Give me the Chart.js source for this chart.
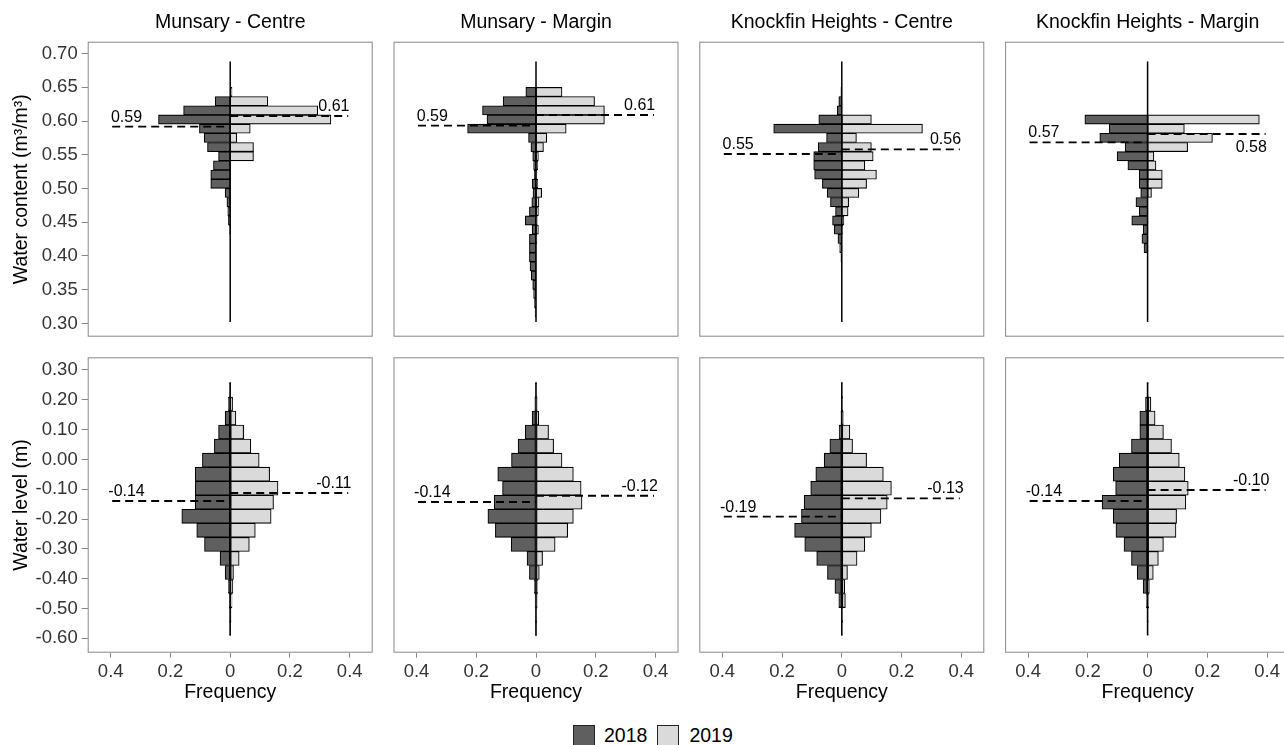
<!DOCTYPE html>
<html>
<head>
<meta charset="utf-8">
<script src="https://cdn.jsdelivr.net/npm/chart.js@4.4.1/dist/chart.umd.min.js"></script>
<style>
  body { margin: 0; background: #fff; overflow: hidden; }
  #fig { position: relative; width: 1284px; height: 745px; overflow: hidden;
         font-family: "Liberation Sans", Arial, sans-serif; }
  #fig canvas { position: absolute; }
  #legend { position: absolute; left: 573px; top: 724px; display: flex; align-items: center;
            font-size: 19.5px; color: #000; }
  .key { width: 22px; height: 22px; border: 1px solid #222; box-sizing: border-box; }
</style>
</head>
<body>
<div id="fig">
  <div id="legend">
    <div class="key" style="background:#5f5f5f"></div><span style="margin:0 10px 0 9px">2018</span>
    <div class="key" style="background:#dadada"></div><span style="margin-left:10px">2019</span>
  </div>
</div>
<script>
"use strict";

var panel_names = ["Munsary - Centre", "Munsary - Margin", "Knockfin Heights - Centre", "Knockfin Heights - Margin"];

// water content (top row), bin centres shared by all four panels
var wc_bins = [0.6838, 0.6702, 0.6566, 0.6430, 0.6294, 0.6158, 0.6022, 0.5886, 0.5750, 0.5614,
               0.5478, 0.5342, 0.5206, 0.5070, 0.4934, 0.4798, 0.4662, 0.4526, 0.4390, 0.4254,
               0.4118, 0.3982, 0.3846, 0.3710, 0.3574, 0.3438, 0.3302, 0.3166, 0.3030];
var wc_ticks = [0.30, 0.35, 0.40, 0.45, 0.50, 0.55, 0.60, 0.65, 0.70];
var wc_span = [0.302, 0.688];

var wc_mc_2018 = [0, 0, 0, 0, 0.050, 0.156, 0.240, 0.103, 0.087, 0.076, 0.039, 0.056, 0.065, 0.065, 0.017,
                  0.011, 0.008, 0.006, 0.002, 0, 0, 0, 0, 0, 0, 0, 0, 0, 0];
var wc_mc_2019 = [0, 0, 0, 0.006, 0.126, 0.293, 0.337, 0.067, 0.022, 0.078, 0.078, 0, 0, 0, 0,
                  0, 0, 0, 0, 0, 0, 0, 0, 0, 0, 0, 0, 0, 0];
var wc_mm_2018 = [0, 0, 0, 0.034, 0.110, 0.179, 0.164, 0.229, 0.025, 0.017, 0.011, 0.008, 0.006, 0.013, 0.010,
                  0.014, 0.022, 0.036, 0.013, 0.022, 0.022, 0.022, 0.020, 0.016, 0.011, 0.008, 0.005, 0.003, 0];
var wc_mm_2019 = [0, 0, 0, 0.087, 0.196, 0.229, 0.229, 0.101, 0.036, 0.025, 0.008, 0.006, 0.003, 0.006, 0.019,
                  0.010, 0.008, 0.004, 0.008, 0.003, 0, 0, 0, 0, 0, 0, 0, 0, 0];
var wc_kc_2018 = [0, 0, 0, 0.003, 0.010, 0.015, 0.077, 0.228, 0.051, 0.079, 0.094, 0.094, 0.091, 0.065, 0.049,
                  0.038, 0.021, 0.031, 0.025, 0.013, 0.007, 0.003, 0.002, 0, 0, 0, 0, 0, 0];
var wc_kc_2019 = [0, 0, 0, 0, 0, 0, 0.099, 0.270, 0.049, 0.099, 0.105, 0.077, 0.116, 0.083, 0.057,
                  0.023, 0.021, 0.007, 0.003, 0, 0, 0, 0, 0, 0, 0, 0, 0, 0];
var wc_km_2018 = [0, 0, 0, 0, 0, 0, 0.210, 0.128, 0.160, 0.075, 0.102, 0.066, 0.028, 0.028, 0.023,
                  0.039, 0.028, 0.053, 0.015, 0.019, 0.012, 0, 0, 0, 0, 0, 0, 0, 0];
var wc_km_2019 = [0, 0, 0, 0, 0, 0, 0.374, 0.123, 0.217, 0.134, 0.021, 0.028, 0.049, 0.049, 0.013,
                  0, 0, 0, 0, 0, 0, 0, 0, 0, 0, 0, 0, 0, 0];
var wc_median_2018 = [0.5916, 0.5931, 0.5510, 0.5683];
var wc_median_2019 = [0.6074, 0.6089, 0.5579, 0.5807];

// water level (bottom row)
var wl_bins = [0.2331, 0.1860, 0.1389, 0.0918, 0.0447, -0.0024, -0.0495, -0.0966, -0.1437,
               -0.1908, -0.2379, -0.2850, -0.3321, -0.3792, -0.4263, -0.4734, -0.5205, -0.5676];
var wl_ticks = [-0.60, -0.50, -0.40, -0.30, -0.20, -0.10, 0.00, 0.10, 0.20, 0.30];
var wl_span = [-0.589, 0.259];

var wl_mc_2018 = [0.002, 0.006, 0.017, 0.039, 0.053, 0.093, 0.117, 0.117, 0.117, 0.162, 0.112, 0.086, 0.034, 0.017, 0.006, 0.003, 0.002, 0.001];
var wl_mc_2019 = [0.002, 0.008, 0.019, 0.045, 0.069, 0.097, 0.132, 0.160, 0.145, 0.137, 0.084, 0.064, 0.030, 0.011, 0.009, 0.006, 0.003, 0.001];
var wl_mm_2018 = [0.002, 0.004, 0.013, 0.036, 0.060, 0.082, 0.128, 0.112, 0.140, 0.161, 0.136, 0.083, 0.030, 0.022, 0.006, 0.003, 0.002, 0.001];
var wl_mm_2019 = [0.002, 0.004, 0.009, 0.042, 0.059, 0.087, 0.125, 0.151, 0.154, 0.125, 0.106, 0.064, 0.022, 0.011, 0.006, 0.004, 0.002, 0.001];
var wl_kc_2018 = [0.001, 0.002, 0.003, 0.009, 0.040, 0.059, 0.087, 0.104, 0.126, 0.135, 0.158, 0.124, 0.084, 0.048, 0.023, 0.010, 0.002, 0.001];
var wl_kc_2019 = [0.001, 0.003, 0.005, 0.027, 0.036, 0.083, 0.139, 0.166, 0.152, 0.131, 0.099, 0.077, 0.051, 0.019, 0.010, 0.012, 0.003, 0.001];
var wl_km_2018 = [0.002, 0.007, 0.026, 0.026, 0.054, 0.095, 0.115, 0.107, 0.152, 0.115, 0.106, 0.079, 0.054, 0.035, 0.015, 0.004, 0.002, 0.001];
var wl_km_2019 = [0.002, 0.011, 0.025, 0.053, 0.080, 0.106, 0.125, 0.136, 0.128, 0.097, 0.095, 0.053, 0.036, 0.019, 0.006, 0.004, 0.002, 0.001];
var wl_median_2018 = [-0.1394, -0.1430, -0.1920, -0.1394];
var wl_median_2019 = [-0.1126, -0.1216, -0.1305, -0.1025];

var freq_ticks = [-0.4, -0.2, 0, 0.2, 0.4];

var rows = {
  wc: { bins: wc_bins, ticks: wc_ticks, span: wc_span, min: 0.2804, max: 0.7175,
        f2018: [wc_mc_2018, wc_mm_2018, wc_kc_2018, wc_km_2018],
        f2019: [wc_mc_2019, wc_mm_2019, wc_kc_2019, wc_km_2019],
        m2018: wc_median_2018, m2019: wc_median_2019,
        ytitle: "Water content (m\u00b3/m\u00b3)" },
  wl: { bins: wl_bins, ticks: wl_ticks, span: wl_span, min: -0.6483, max: 0.3426,
        f2018: [wl_mc_2018, wl_mm_2018, wl_kc_2018, wl_km_2018],
        f2019: [wl_mc_2019, wl_mm_2019, wl_kc_2019, wl_km_2019],
        m2018: wl_median_2018, m2019: wl_median_2019,
        ytitle: "Water level (m)" }
};

var colors = { dark: "#5f5f5f", light: "#dadada", edge: "#000000", frame: "#888888", tick: "#333333" };
var median_end = 0.395;   // dashed line length (frequency units)
var label_x = 0.347;      // centre of the median labels

Chart.defaults.font.family = "'Liberation Sans', Arial, sans-serif";
Chart.defaults.color = "#000";

var panel_frame = {
  id: "panel_frame",
  afterDraw: function(chart) {
    var a = chart.chartArea, ctx = chart.ctx;
    ctx.save();
    ctx.strokeStyle = colors.frame;
    ctx.lineWidth = 1;
    ctx.strokeRect(a.left + 0.5, a.top + 0.5, a.right - a.left - 1, a.bottom - a.top - 1);
    ctx.restore();
  }
};

var median_labels = {
  id: "median_labels",
  afterDatasetsDraw: function(chart, args, opts) {
    var x = chart.scales.x, y = chart.scales.y, ctx = chart.ctx;
    ctx.save();
    ctx.font = "16px 'Liberation Sans', Arial, sans-serif";
    ctx.fillStyle = "#000";
    ctx.textAlign = "center";
    ctx.textBaseline = "alphabetic";
    opts.items.forEach(function(it) {
      var px = x.getPixelForValue(it.side * label_x);
      var py = y.getPixelForValue(it.value);
      ctx.fillText(it.value.toFixed(2), px, it.below ? py + 18 : py - 5);
    });
    ctx.restore();
  }
};

function bar_points(bins, freqs, sign) {
  return bins.map(function(b, i) { return { x: sign * freqs[i], y: b }; });
}

function make_panel(key, col) {
  var r = rows[key];
  var top_row = key === "wc";
  var left = 87.7 + 305.8 * col;
  var axis_w = 87.7;
  var canvas_left = col === 0 ? 0 : Math.floor(left) - 8;
  var canvas_w = col === 0 ? 381 : 301;
  var pad_left = col === 0 ? 0 : left - canvas_left;
  var pad_right = canvas_w - pad_left - 285 - (col === 0 ? axis_w : 0);
  var canvas_top = top_row ? 0 : 350;
  var canvas_h = top_row ? 339 : 354;

  var canvas = document.createElement("canvas");
  canvas.width = canvas_w;
  canvas.height = canvas_h;
  canvas.style.left = canvas_left + "px";
  canvas.style.top = canvas_top + "px";
  document.getElementById("fig").appendChild(canvas);

  var m18 = r.m2018[col], m19 = r.m2019[col];
  var dashed = { type: "line", borderColor: "#000", borderWidth: 1.9, borderDash: [8, 5],
                 pointRadius: 0, fill: false, order: 0 };

  return new Chart(canvas, {
    type: "bar",
    data: {
      datasets: [
        { type: "line", data: [{ x: 0, y: r.span[0] }, { x: 0, y: r.span[1] }],
          borderColor: "#000", borderWidth: 1.5, pointRadius: 0, fill: false, order: 0 },
        Object.assign({ data: [{ x: -median_end, y: m18 }, { x: 0, y: m18 }] }, dashed),
        Object.assign({ data: [{ x: 0, y: m19 }, { x: median_end, y: m19 }] }, dashed),
        { label: "2018", data: bar_points(r.bins, r.f2018[col], -1),
          backgroundColor: colors.dark, borderColor: colors.edge, borderWidth: 1.1,
          borderSkipped: false, grouped: false, barPercentage: 1, categoryPercentage: 1, order: 2 },
        { label: "2019", data: bar_points(r.bins, r.f2019[col], 1),
          backgroundColor: colors.light, borderColor: colors.edge, borderWidth: 1.1,
          borderSkipped: false, grouped: false, barPercentage: 1, categoryPercentage: 1, order: 1 }
      ]
    },
    options: {
      indexAxis: "y",
      responsive: false,
      animation: false,
      events: [],
      layout: { padding: { left: pad_left, right: pad_right, top: top_row ? 0 : 7.3, bottom: top_row ? 2.3 : 0 } },
      plugins: {
        legend: { display: false },
        tooltip: { enabled: false },
        title: { display: top_row, text: panel_names[col], fullSize: false, color: "#000",
                 font: { size: 19.5, weight: "normal" }, padding: { top: 11, bottom: 7.3 } },
        median_labels: { items: [
          { value: m18, side: -1, below: false },
          { value: m19, side: 1, below: top_row && col === 3 }
        ] }
      },
      scales: {
        x: {
          type: "linear", min: -0.477, max: 0.477,
          display: !top_row,
          afterBuildTicks: function(s) { s.ticks = freq_ticks.map(function(v) { return { value: v }; }); },
          afterFit: function(s) {
            if (!top_row) s.height = 51.3;
            s.paddingLeft = 0; s.paddingRight = 0;
          },
          grid: { drawOnChartArea: false, drawTicks: true, tickLength: 5, tickColor: colors.frame, tickWidth: 1 },
          border: { display: false },
          ticks: { padding: 3, color: colors.tick, font: { size: 18.5 }, maxRotation: 0, autoSkip: false,
                    callback: function(v) { return String(Math.abs(Math.round(v * 10) / 10)); } },
          title: { display: true, text: "Frequency", color: "#000", font: { size: 19.5 }, padding: 0 }
        },
        y: {
          type: "linear", min: r.min, max: r.max, offset: false,
          display: col === 0,
          afterBuildTicks: function(s) { s.ticks = r.ticks.map(function(v) { return { value: v }; }); },
          afterFit: function(s) {
            if (col === 0) s.width = axis_w;
            s.paddingTop = 0; s.paddingBottom = 0;
          },
          grid: { drawOnChartArea: false, offset: false, drawTicks: true, tickLength: 6, tickColor: colors.frame, tickWidth: 1 },
          border: { display: false },
          ticks: { padding: 4, color: colors.tick, font: { size: 18.5 }, autoSkip: false,
                   callback: function(v) { return v.toFixed(2); } },
          title: { display: true, text: r.ytitle, color: "#000", font: { size: 19.5 }, padding: { top: 10, bottom: 0 } }
        }
      }
    },
    plugins: [median_labels, panel_frame]
  });
}

["wc", "wl"].forEach(function(key) {
  for (var c = 0; c < 4; c++) make_panel(key, c);
});
</script>
</body>
</html>
